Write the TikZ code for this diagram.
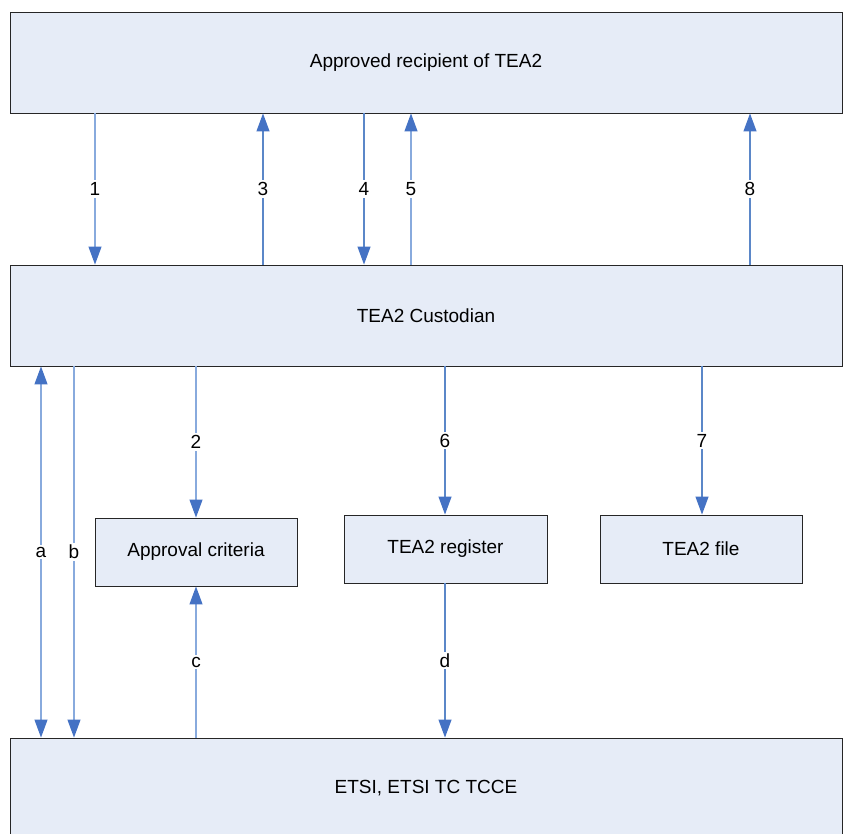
\documentclass[tikz,border=0pt]{standalone}
\usepackage{fontspec}
\setmainfont{Liberation Sans}
\usetikzlibrary{arrows.meta,calc,positioning}

\definecolor{boxfill}{HTML}{E6ECF7}
\definecolor{flowline}{HTML}{5B87C8}
\definecolor{flowpale}{HTML}{88AADD}
\definecolor{flowhead}{HTML}{4472C4}

\tikzset{
  blk/.style={draw=black!85,line width=0.9pt,fill=boxfill,inner sep=0pt,
    font=\fontsize{19}{22}\selectfont},
  flow/.style={draw=flowline,line width=1.2pt,
    -{Triangle[length=18pt,width=13pt,color=flowhead]}},
  flowp/.style={flow,draw=flowpale},
  both/.style={{Triangle[length=18pt,width=13pt,color=flowhead]}-{Triangle[length=18pt,width=13pt,color=flowhead]}},
  lbl/.style={fill=white,inner sep=2pt,font=\fontsize{19}{22}\selectfont}
}

\begin{document}
\begin{tikzpicture}[x=1pt,y=-1pt]
  \useasboundingbox (0,0) rectangle (843,834);
  % boxes
  \node[blk,minimum width=832pt,minimum height=101pt] (recip) at (426,62.5) {Approved recipient of TEA2};
  \node[blk,minimum width=832pt,minimum height=101pt] (cust) at (426,315.5) {TEA2 Custodian};
  \node[blk,minimum width=202pt,minimum height=68pt] (crit) at (196,552) {Approval criteria};
  \node[blk,minimum width=203pt,minimum height=68pt] (reg) at (445.5,549) {TEA2 register};
  \node[blk,minimum width=202pt,minimum height=68pt] (file) at (701,549) {TEA2 file};
  \node[blk,minimum width=832pt,minimum height=100pt] (etsi) at (426,788) {ETSI, ETSI TC TCCE};

  % columns
  \coordinate (ca) at (41,0);
  \coordinate (cb) at (74,0);
  \coordinate (c1) at (95,0);
  \coordinate (c2) at (196,0);
  \coordinate (c3) at (263,0);
  \coordinate (c4) at (364,0);
  \coordinate (c5) at (411,0);
  \coordinate (c6) at (445,0);
  \coordinate (c7) at (702,0);
  \coordinate (c8) at (750,0);

  % recipient <-> custodian
  \draw[flowp] (recip.south -| c1) -- node[lbl]{1} (cust.north -| c1);
  \draw[flow] (cust.north -| c3) -- node[lbl]{3} (recip.south -| c3);
  \draw[flow] (recip.south -| c4) -- node[lbl]{4} (cust.north -| c4);
  \draw[flowp] (cust.north -| c5) -- node[lbl]{5} (recip.south -| c5);
  \draw[flow] (cust.north -| c8) -- node[lbl]{8} (recip.south -| c8);

  % custodian -> stores
  \draw[flowp] (cust.south -| c2) -- node[lbl]{2} (crit.north -| c2);
  \draw[flow] (cust.south -| c6) -- node[lbl]{6} (reg.north -| c6);
  \draw[flow] (cust.south -| c7) -- node[lbl]{7} (file.north -| c7);

  % ETSI
  \draw[flowp,both] (etsi.north -| ca) -- node[lbl]{a} (cust.south -| ca);
  \draw[flowp] (cust.south -| cb) -- node[lbl]{b} (etsi.north -| cb);
  \draw[flowp] (etsi.north -| c2) -- node[lbl]{c} (crit.south -| c2);
  \draw[flow] (reg.south -| c6) -- node[lbl]{d} (etsi.north -| c6);
\end{tikzpicture}
\end{document}
